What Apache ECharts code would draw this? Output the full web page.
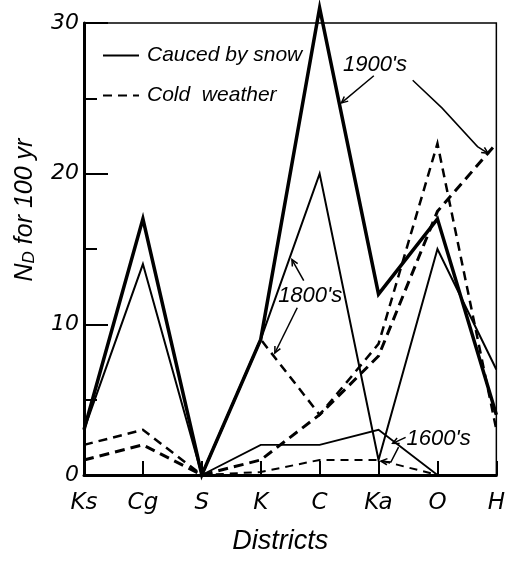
<!DOCTYPE html>
<html>
<head>
<meta charset="utf-8">
<script src="https://cdn.jsdelivr.net/npm/echarts@6/dist/echarts.min.js"></script>
<style>
  html, body { margin: 0; padding: 0; background: #fff; }
  #chart { width: 508px; height: 561px; }
</style>
</head>
<body>
<div id="chart"></div>
<script>
// Districts along the x axis
const districts = ['Ks', 'Cg', 'S', 'K', 'C', 'Ka', 'O', 'H'];

// ND per 100 years, caused by snow
const snow1900 = [3, 17, 0, 9, 31, 12, 17, 4];
const snow1800 = [3, 14, 0, 9, 20, 1, 15, 7];
const snow1600 = [null, null, 0, 2, 2, 3, 0, null];

// ND per 100 years, cold weather
const cold1900 = [1, 2, 0, 1, 4, 7.9, 17.5, 22];
const cold1800 = [2, 3, 0, 9, 4, 8.7, 22, 3];
const cold1600 = [null, null, 0, 0.2, 1, 1, 0, null];

const yMax = 30;
const yStep = 10;

const SNOW = 'Cauced by snow';
const COLD = 'Cold  weather';

// Century labels, placed in data units (district index, ND)
const centuryLabels = [
  { text: "1900's", at: [4.94, 27.2] },
  { text: "1800's", at: [3.84, 11.9] },
  { text: "1600's", at: [6.02, 2.4] }
];
// Leader lines from the labels to their curves, arrow at the last point
const leaders = [
  [[4.92, 26.5], [4.37, 24.7]],
  [[5.58, 26.2], [6.08, 24.35], [6.68, 21.8], [6.86, 21.35]],
  [[3.73, 12.9], [3.53, 14.3]],
  [[3.62, 11.1], [3.24, 8.1]],
  [[5.46, 2.5], [5.24, 2.1]],
  [[5.34, 1.85], [5.21, 0.86], [5.04, 0.92]]
];

const ink = '#000';
const italicSans = { fontFamily: 'Liberation Sans', fontStyle: 'italic', color: ink };

function lineSeries(name, data, width, dash, clip) {
  return {
    type: 'line',
    name: name,
    data: data,
    color: ink,
    symbol: 'none',
    showSymbol: false,
    connectNulls: false,
    clip: clip !== false,
    itemStyle: { color: ink },
    lineStyle: {
      color: ink,
      width: width,
      type: dash || 'solid',
      join: 'miter',
      miterLimit: 12,
      cap: 'butt'
    },
    emphasis: { disabled: true }
  };
}

const chart = echarts.init(document.getElementById('chart'), null, { renderer: 'canvas' });

chart.setOption({
  animation: false,
  backgroundColor: '#fff',
  color: [ink],
  grid: {
    left: 84, right: 6, top: 23, bottom: 86,
    show: true, borderColor: ink, borderWidth: 1.5, backgroundColor: 'transparent'
  },
  legend: {
    data: [SNOW, COLD],
    orient: 'vertical',
    left: 97,
    top: 40,
    itemWidth: 36,
    itemHeight: 14,
    itemGap: 19,
    selectedMode: false,
    itemStyle: { opacity: 0 },
    lineStyle: { width: 2, color: ink },
    textStyle: Object.assign({ fontSize: 21, padding: [0, 0, 0, 3] }, italicSans)
  },
  xAxis: {
    type: 'category',
    data: districts,
    boundaryGap: false,
    name: 'Districts',
    nameLocation: 'middle',
    nameGap: 53,
    nameTextStyle: Object.assign({ fontSize: 27, padding: [0, 20, 0, 0] }, italicSans),
    axisLine: { lineStyle: { color: ink, width: 3 } },
    axisTick: { show: true, inside: true, length: 14, lineStyle: { color: ink, width: 2 } },
    axisLabel: { fontFamily: 'DejaVu Sans', fontStyle: 'italic', fontSize: 23, color: ink, margin: 17 },
    splitLine: { show: false }
  },
  yAxis: {
    type: 'value',
    min: 0,
    max: yMax,
    interval: yStep,
    name: '{n|N}{d|D} for 100 yr',
    nameLocation: 'middle',
    nameRotate: 90,
    nameGap: 46,
    nameTextStyle: Object.assign({
      fontSize: 25,
      padding: [0, 0, 0, 78],
      rich: {
        n: { fontSize: 25, fontStyle: 'italic', fontFamily: 'Liberation Sans', color: ink },
        d: { fontSize: 17, fontStyle: 'italic', fontFamily: 'Liberation Sans', color: ink, verticalAlign: 'bottom' }
      }
    }, italicSans),
    axisLine: { show: true, lineStyle: { color: ink, width: 3 } },
    axisTick: { show: true, inside: true, length: 24, lineStyle: { color: ink, width: 2 } },
    minorTick: { show: true, splitNumber: 2, length: 13, lineStyle: { color: ink, width: 2 } },
    axisLabel: { fontFamily: 'DejaVu Sans', fontStyle: 'italic', fontSize: 22, color: ink, margin: 5 },
    splitLine: { show: false },
    minorSplitLine: { show: false }
  },
  series: [
    lineSeries(SNOW, snow1800, 2),
    lineSeries(SNOW, snow1900, 3.5, 'solid', false),
    lineSeries(SNOW, snow1600, 1.8),
    lineSeries(COLD, cold1800, 2.5, [9, 6]),
    lineSeries(COLD, cold1900, 3, [10, 6]),
    lineSeries(COLD, cold1600, 2, [8, 6])
  ]
});

// Map (district index, ND) to pixels through the chart's own axes
const origin = chart.convertToPixel({ gridIndex: 0 }, [0, 0]);
const corner = chart.convertToPixel({ gridIndex: 0 }, [districts.length - 1, yMax]);
function toPx(pt) {
  return [
    origin[0] + pt[0] * (corner[0] - origin[0]) / (districts.length - 1),
    origin[1] + pt[1] * (corner[1] - origin[1]) / yMax
  ];
}

const graphics = [];
centuryLabels.forEach(function (lab) {
  const p = toPx(lab.at);
  graphics.push({
    type: 'text',
    x: p[0], y: p[1],
    z: 50,
    style: {
      text: lab.text,
      fontSize: 22,
      fontStyle: 'italic',
      fontFamily: 'Liberation Sans',
      fill: ink,
      align: 'center',
      verticalAlign: 'middle'
    }
  });
});
leaders.forEach(function (path) {
  const pts = path.map(toPx);
  graphics.push({
    type: 'polyline',
    z: 50,
    shape: { points: pts },
    style: { stroke: ink, lineWidth: 1.5, fill: null }
  });
  const a = pts[pts.length - 2], b = pts[pts.length - 1];
  const ang = Math.atan2(b[1] - a[1], b[0] - a[0]);
  const len = 7, spread = 0.45;
  const l = [b[0] - len * Math.cos(ang - spread), b[1] - len * Math.sin(ang - spread)];
  const r = [b[0] - len * Math.cos(ang + spread), b[1] - len * Math.sin(ang + spread)];
  graphics.push({
    type: 'polyline',
    z: 50,
    shape: { points: [l, b, r] },
    style: { stroke: ink, lineWidth: 1.5, fill: null }
  });
});
chart.setOption({ graphic: graphics });
</script>
</body>
</html>
